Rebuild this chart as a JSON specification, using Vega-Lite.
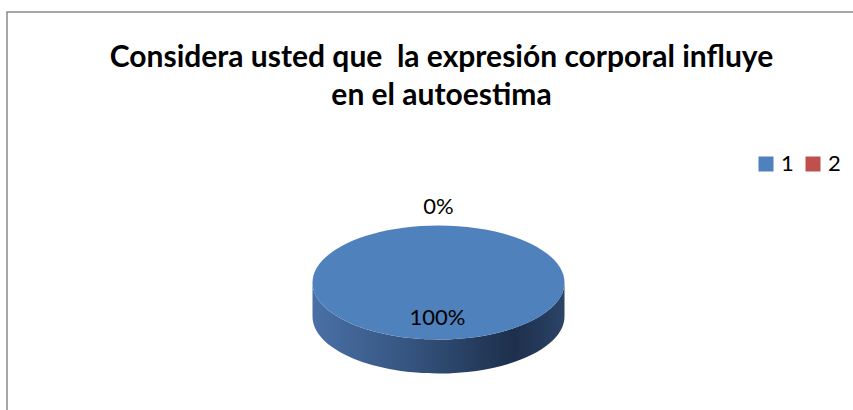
{
  "$schema": "https://vega.github.io/schema/vega-lite/v6.json",
  "width": 853,
  "height": 410,
  "autosize": {"type": "fit", "contains": "padding"},
  "padding": {"left": 7, "top": 12, "right": -3, "bottom": -3},
  "background": "white",
  "view": {"stroke": "#8a8a8a", "strokeWidth": 1.5, "fill": "white"},
  "config": {"view": {"stroke": "#8a8a8a", "strokeWidth": 1.5}},
  "title": {
    "text": ["Considera usted que\u00a0 la expresión corporal influye", "en el autoestima"],
    "font": "Lato",
    "fontSize": 30,
    "fontWeight": "bold",
    "color": "#000000",
    "anchor": "middle",
    "lineHeight": 38,
    "offset": -99,
    "dx": 10
  },
  "data": {
    "values": [
      {"categoria": "1", "proporcion": 1},
      {"categoria": "2", "proporcion": 0}
    ]
  },
  "layer": [
    {
      "transform": [{"filter": "datum.proporcion > 0"}],
      "mark": {
        "type": "point",
        "filled": true,
        "opacity": 1,
        "size": 63504,
        "xOffset": 7,
        "yOffset": 70,
        "shape": "M-1,0A1,0.452,0,0,0,1,0L1,0.27A1,0.452,0,0,1,-1,0.27Z",
        "fill": {
          "gradient": "linear",
          "x1": 0, "y1": 0, "x2": 1, "y2": 0,
          "stops": [
            {"offset": 0, "color": "#4a70a6"},
            {"offset": 0.35, "color": "#375783"},
            {"offset": 0.8, "color": "#1d2f4c"},
            {"offset": 1, "color": "#2c4467"}
          ]
        }
      },
      "encoding": {}
    },
    {
      "transform": [{"filter": "datum.proporcion > 0"}],
      "mark": {
        "type": "point",
        "filled": true,
        "opacity": 1,
        "size": 63504,
        "xOffset": 7,
        "yOffset": 70,
        "shape": "M-1,0A1,0.452,0,1,1,1,0A1,0.452,0,1,1,-1,0Z"
      },
      "encoding": {
        "color": {
          "field": "categoria",
          "type": "nominal",
          "scale": {"domain": ["1", "2"], "range": ["#4f81bd", "#c0504d"]},
          "legend": {
            "orient": "none",
            "legendX": 748,
            "legendY": 141,
            "direction": "horizontal",
            "title": null,
            "symbolSize": 225,
            "symbolOpacity": 1,
            "labelFont": "Lato",
            "labelFontSize": 22,
            "labelColor": "#000000",
            "labelOffset": 4,
            "columnPadding": 8,
            "encode": {"symbols": {"update": {"shape": {"value": "square"}, "strokeWidth": {"value": 0}}}}
          }
        }
      }
    },
    {
      "transform": [{"filter": "datum.categoria == '2'"}],
      "mark": {"type": "text", "font": "Lato", "fontSize": 22, "color": "#000000", "xOffset": 7, "yOffset": -6},
      "encoding": {"text": {"field": "proporcion", "type": "quantitative", "format": ".0%"}}
    },
    {
      "transform": [{"filter": "datum.categoria == '1'"}],
      "mark": {"type": "text", "font": "Lato", "fontSize": 22, "color": "#000000", "xOffset": 6, "yOffset": 105},
      "encoding": {"text": {"field": "proporcion", "type": "quantitative", "format": ".0%"}}
    }
  ]
}
